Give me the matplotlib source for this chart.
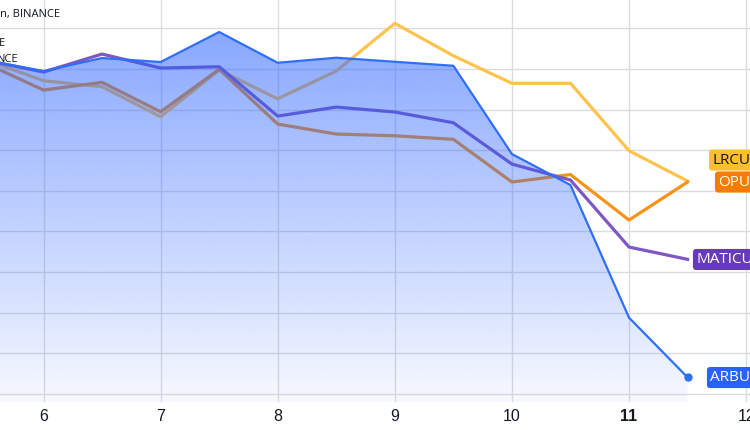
import numpy as np
import matplotlib.pyplot as plt
from matplotlib.patches import Polygon

# days (half-day steps), % change per symbol
days = [5.5, 6.0, 6.5, 7.0, 7.5, 8.0, 8.5, 9.0, 9.5, 10.0, 10.5, 11.0, 11.5]
arb = [1.08, -0.27, 1.33, 0.84, 4.53, 0.75, 1.37, 0.87, 0.38, -10.48, -14.29, -30.61, -37.95]
matic = [1.08, -0.39, 1.82, 0.10, 0.26, -5.81, -4.70, -5.31, -6.63, -11.71, -13.68, -21.92, -23.43]
lrc = [1.14, -1.46, -2.20, -5.89, -0.15, -3.68, -0.27, 5.60, 1.61, -1.78, -1.78, -10.07, -13.80]
op = [0.71, -2.61, -1.66, -5.28, -0.06, -6.79, -8.02, -8.23, -8.67, -13.92, -13.00, -18.60, -13.92]
xticks = [6, 7, 8, 9, 10, 11, 12]

c_arb = '#2f6ff5'
c_matic = '#7e57c2'
c_lrc = '#ffc34d'
c_op = '#f7931a'

plt.rcParams['font.family'] = ['Liberation Sans Narrow', 'Liberation Sans', 'DejaVu Sans']

fig = plt.figure(figsize=(7.5, 4.3), dpi=100)
ax = fig.add_axes([0, 28 / 430, 1, 402 / 430])
xmin, xmax = 5.6285, 12.033
ymin, ymax = -40.98, 8.47
ax.set_xlim(xmin, xmax)
ax.set_ylim(ymin, ymax)

ax.set_xticks(xticks)
ax.set_xticklabels([str(t) for t in xticks])
for lbl in ax.get_xticklabels():
    lbl.set_fontsize(11.5)
    lbl.set_color('#131722')
    if lbl.get_text() == '11':
        lbl.set_fontweight('bold')
ax.set_yticks(np.arange(-40, 6, 5))
ax.tick_params(axis='x', length=0, pad=5)
ax.tick_params(axis='y', length=0, labelleft=False)
ax.grid(True, color='#dcdcdf', linewidth=1, zorder=0)
ax.set_axisbelow(True)
for s in ax.spines.values():
    s.set_visible(False)

# lines that sit under the ARB area
ax.plot(days, lrc, color=c_lrc, lw=2.3, zorder=2)
ax.plot(days, op, color=c_op, lw=2.3, zorder=2)
ax.plot(days, matic, color=c_matic, lw=2.3, zorder=2)

# gradient area for ARB
grad = np.zeros((256, 1, 4))
grad[:, 0, 0] = 41 / 255
grad[:, 0, 1] = 98 / 255
grad[:, 0, 2] = 255 / 255
grad[:, 0, 3] = np.linspace(0.6, 0.04, 256)
img = ax.imshow(grad, aspect='auto', extent=[xmin, xmax, ymin, ymax],
                origin='upper', zorder=3, interpolation='bilinear')
verts = list(zip(days, arb)) + [(days[-1], ymin), (days[0], ymin)]
poly = Polygon(verts, closed=True, facecolor='none', edgecolor='none')
ax.add_patch(poly)
img.set_clip_path(poly)

ax.plot(days, arb, color=c_arb, lw=1.6, zorder=4)
ax.plot(days[-1], arb[-1], 'o', color=c_arb, ms=5, zorder=5)

# price scale labels (cut at the right edge, as in the source screenshot)
labels = [('LRCUSDT', 712, -11.22, '#fbc02d', '#131722'),
          ('OPUSDT', 718, -13.92, '#f57c00', 'white'),
          ('MATICUSDT', 696, -23.45, '#673ab7', 'white'),
          ('ARBUSDT', 710, -37.97, '#2962ff', 'white')]
for name, px, yv, bg, fg in labels:
    ax.text(px / 750, yv, name, transform=ax.get_yaxis_transform(),
            ha='left', va='center', fontsize=11, color=fg, zorder=6,
            family=['Open Sans', 'DejaVu Sans'],
            bbox=dict(boxstyle='round,pad=0.2', fc=bg, ec='none'))

# legend text clipped at the left edge
fig.text(0.0, 1 - 14 / 430, 'n, BINANCE', ha='left', va='center', fontsize=8,
         color='#131722', family=['Open Sans', 'DejaVu Sans'])
fig.text(-0.002, 1 - 43 / 430, 'E', ha='left', va='center', fontsize=8,
         color='#131722', family=['Open Sans', 'DejaVu Sans'])
fig.text(-0.004, 1 - 60 / 430, 'NCE', ha='left', va='center', fontsize=8,
         color='#131722', family=['Open Sans', 'DejaVu Sans'])

fig.savefig('out.png', dpi=100)
